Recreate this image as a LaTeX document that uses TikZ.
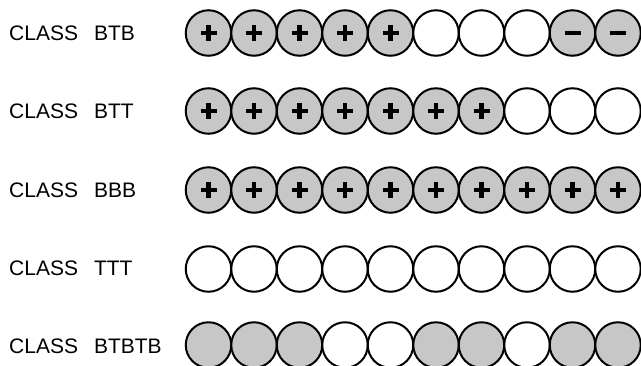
\documentclass[tikz,border=0pt]{standalone}
\usepackage{fontspec}
\setmainfont{Liberation Sans}
\begin{document}
\begin{tikzpicture}[x=1pt,y=-1pt,
  cir/.style={circle,draw=black,line width=2pt,minimum size=45.5pt,inner sep=0pt},
  full/.style={cir,fill=black!22},
  empty/.style={cir,fill=white},
  sign/.style={line width=4.8pt,line cap=butt},
  lab/.style={anchor=base west,inner sep=0pt,font=\fontsize{21}{24}\selectfont}]
\useasboundingbox (0,0) rectangle (641,365);
\clip (0,0) rectangle (641,365);
% labels
\node[lab] (l1) at (9,40) {CLASS\kern16pt BTB};
\node[lab] (l2) at (9,118) {CLASS\kern16pt BTT};
\node[lab] (l3) at (9,197) {CLASS\kern16pt BBB};
\node[lab] (l4) at (9,275) {CLASS\kern16pt TTT};
\node[lab] (l5) at (9,353) {CLASS\kern16pt BTBTB};
% rows: code p = plus, m = minus, o = empty, f = filled
\foreach \row/\y/\codes in {1/33/{p,p,p,p,p,o,o,o,m,m},
                            2/111/{p,p,p,p,p,p,p,o,o,o},
                            3/190/{p,p,p,p,p,p,p,p,p,p},
                            4/269/{o,o,o,o,o,o,o,o,o,o},
                            5/345/{f,f,f,o,o,f,f,o,f,f}}{
  \foreach \c [count=\i from 0] in \codes {
    \pgfmathsetmacro\cx{208.5+45.5*\i}
    \if\c o
      \node[empty] (c-\row-\i) at (\cx,\y) {};
    \else
      \node[full] (c-\row-\i) at (\cx,\y) {};
    \fi
    \if\c p
      \draw[sign] (c-\row-\i.center) ++(-8,0) -- ++(16,0);
      \draw[sign] (c-\row-\i.center) ++(0,-8) -- ++(0,16);
    \fi
    \if\c m
      \draw[sign] (c-\row-\i.center) ++(-8,0) -- ++(16,0);
    \fi
  }
}
\end{tikzpicture}
\end{document}
